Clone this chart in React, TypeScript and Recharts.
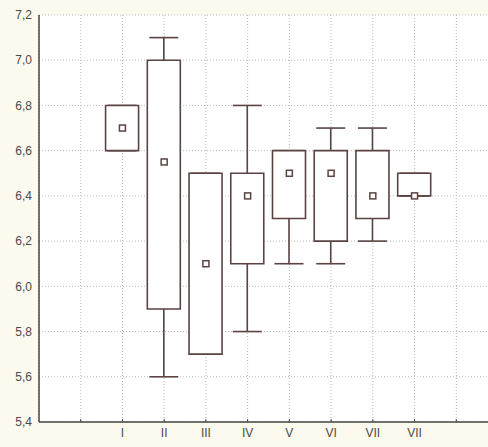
import React from "react";
import {
  ComposedChart,
  Bar,
  Scatter,
  XAxis,
  YAxis,
  CartesianGrid,
} from "recharts";

const groups = ["I", "II", "III", "IV", "V", "VI", "VII", "VII"];
const whiskerLow = [6.6, 5.6, 5.7, 5.8, 6.1, 6.1, 6.2, 6.4];
const boxLow = [6.6, 5.9, 5.7, 6.1, 6.3, 6.2, 6.3, 6.4];
const boxHigh = [6.8, 7.0, 6.5, 6.5, 6.6, 6.6, 6.6, 6.5];
const whiskerHigh = [6.8, 7.1, 6.5, 6.8, 6.6, 6.7, 6.7, 6.5];
const means = [6.7, 6.55, 6.1, 6.4, 6.5, 6.5, 6.4, 6.4];
const yTicks = [5.4, 5.6, 5.8, 6.0, 6.2, 6.4, 6.6, 6.8, 7.0, 7.2];

const INK = "#5b4343";

// one empty slot at each end, like the original plot
const rows = Array.from({ length: groups.length + 2 }, (_, i) => {
  const g = i - 1;
  if (g < 0 || g >= groups.length) return { key: `c${i}`, label: "" };
  return {
    key: `c${i}`,
    label: groups[g],
    whisker: [whiskerLow[g], whiskerHigh[g]],
    box: [boxLow[g], boxHigh[g]],
    mean: means[g],
  };
});

const fmt = (v: number) => v.toFixed(1).replace(".", ",");

function Whisker(props: any) {
  const { x, y, width, height } = props;
  if (!Number.isFinite(y) || !Number.isFinite(height)) return <g />;
  const cx = x + width / 2;
  const top = Math.min(y, y + height);
  const bot = Math.max(y, y + height);
  const cap = 14.5;
  return (
    <g stroke={INK} strokeWidth={1.6}>
      <line x1={cx} x2={cx} y1={top} y2={bot} />
      <line x1={cx - cap} x2={cx + cap} y1={top} y2={top} />
      <line x1={cx - cap} x2={cx + cap} y1={bot} y2={bot} />
    </g>
  );
}

function MeanMark(props: any) {
  const { cx, cy } = props;
  if (!Number.isFinite(cx) || !Number.isFinite(cy)) return <g />;
  return (
    <rect
      x={cx - 3}
      y={cy - 3}
      width={6}
      height={6}
      fill="#fff"
      stroke={INK}
      strokeWidth={1.5}
    />
  );
}

const pad = { left: 20.85, right: 20.85 };
const tickStyle = { fontFamily: "Liberation Sans, Arial", fontSize: 12, fill: "#4a4a4a" };

export default function App() {
  return (
    <div
      style={{
        position: "absolute",
        left: 0,
        top: 0,
        width: 488,
        height: 447,
        overflow: "hidden",
        background: "#fcf9ef",
      }}
    >
      <ComposedChart
        width={520}
        height={447}
        data={rows}
        margin={{ top: 15, right: 22, bottom: 0, left: 0 }}
      >
        <CartesianGrid
          xAxisId="bottom"
          stroke="#b8b8b8"
          strokeDasharray="1 2"
          fill="#ffffff"
        />
        <XAxis
          xAxisId="bottom"
          dataKey="key"
          height={25}
          padding={pad}
          interval={0}
          tickFormatter={(_v: any, i: number) => rows[i]?.label ?? ""}
          tick={tickStyle}
          axisLine={{ stroke: "#444", strokeWidth: 1.5 }}
          tickLine={{ stroke: "#444" }}
          tickSize={-3}
          tickMargin={9}
        />
        <XAxis
          xAxisId="top"
          orientation="top"
          dataKey="key"
          height={0}
          padding={pad}
          interval={0}
          mirror
          tickFormatter={() => ""}
          axisLine={{ stroke: "#444", strokeWidth: 1.5 }}
          tickLine={{ stroke: "#444" }}
          tickSize={3}
        />
        <YAxis
          type="number"
          domain={[5.4, 7.2]}
          ticks={yTicks}
          width={39}
          tickFormatter={fmt}
          tick={tickStyle}
          axisLine={{ stroke: "#444", strokeWidth: 1.5 }}
          tickLine={false}
          tickSize={0}
          tickMargin={7}
        />
        <Bar
          xAxisId="bottom"
          dataKey="whisker"
          barSize={33}
          shape={<Whisker />}
          isAnimationActive={false}
        />
        <Bar
          xAxisId="top"
          dataKey="box"
          barSize={33}
          fill="#ffffff"
          stroke={INK}
          strokeWidth={1.6}
          isAnimationActive={false}
        />
        <Scatter
          xAxisId="bottom"
          dataKey="mean"
          shape={<MeanMark />}
          isAnimationActive={false}
        />
      </ComposedChart>
    </div>
  );
}
